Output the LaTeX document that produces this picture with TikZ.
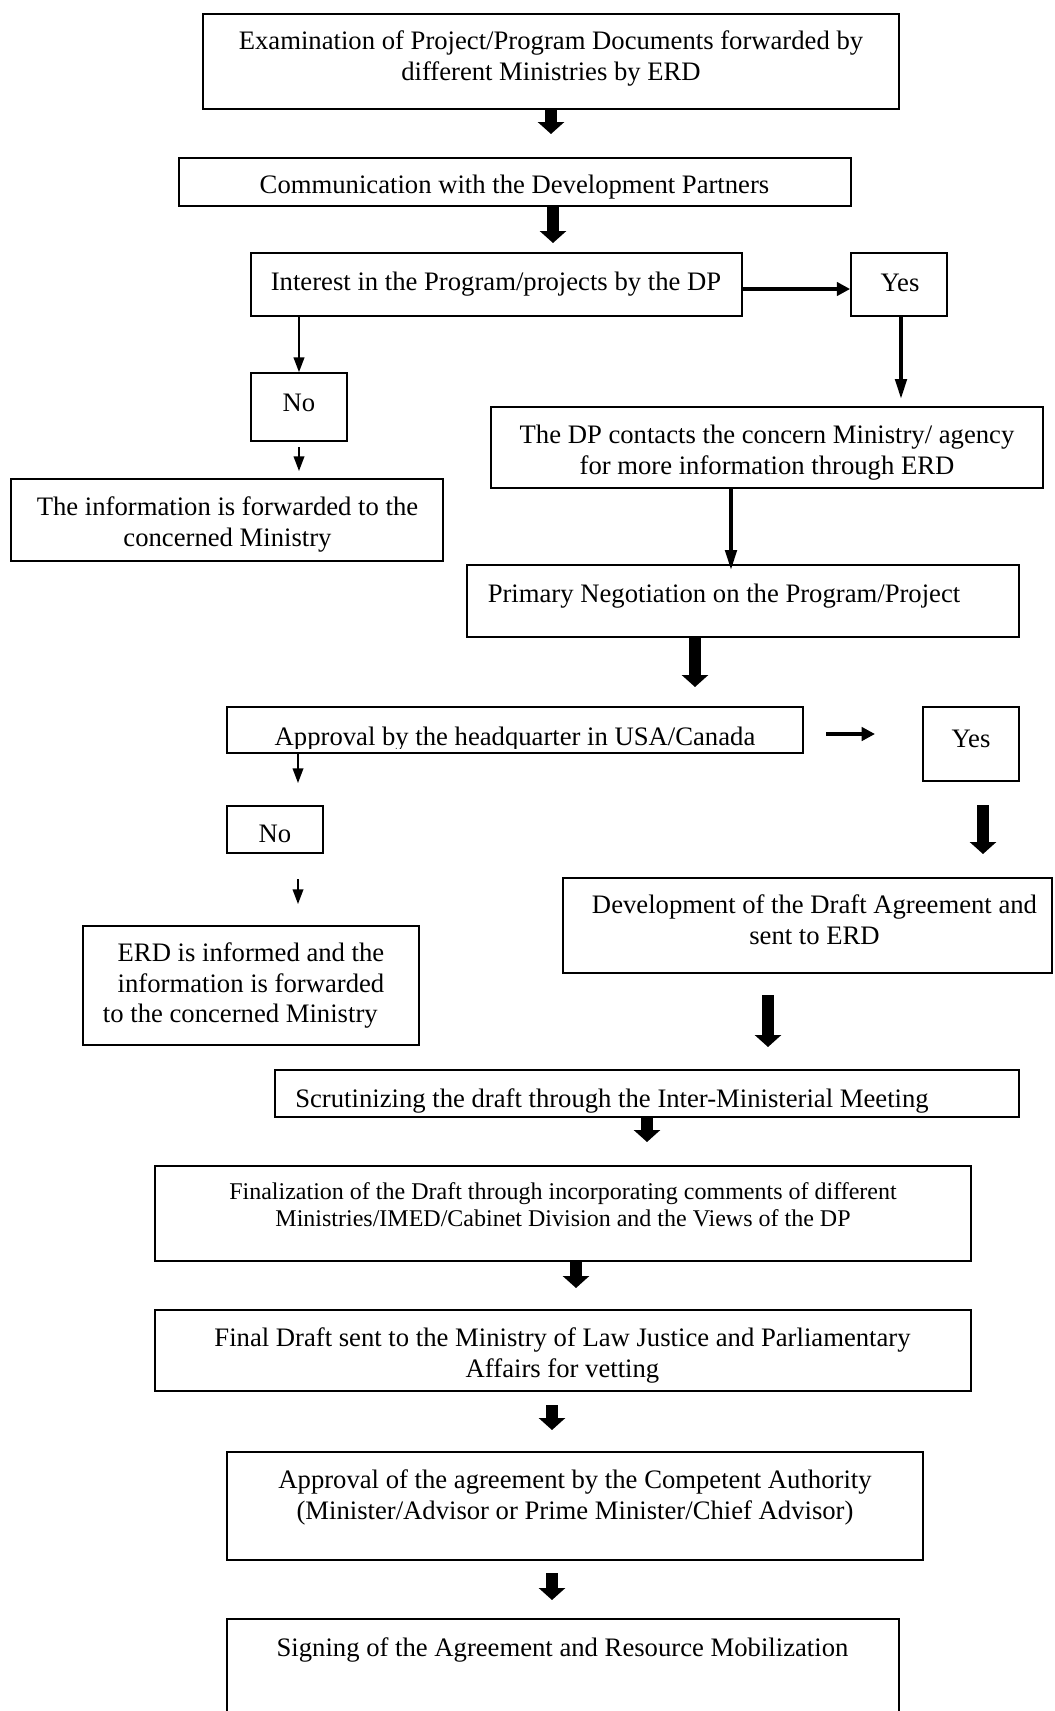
\documentclass[tikz,border=0pt]{standalone}
\usepackage{fontspec}
\setmainfont{Liberation Serif}
\usetikzlibrary{arrows.meta,fit}
\begin{document}
\begin{tikzpicture}[x=0.75pt,y=-0.75pt,
  box/.style={draw, line width=1.3pt, inner sep=0pt},
  txt/.style={align=center, inner sep=0pt, font=\fontsize{20}{23}\selectfont},
  smalltxt/.style={align=center, inner sep=0pt, font=\fontsize{18}{20.5}\selectfont},
  fat/.style={line width=9pt, -{Triangle[width=19.5pt,length=9pt]}},
  med/.style={line width=2.8pt, -{Triangle[width=10pt,length=10pt]}},
  medlong/.style={line width=2.8pt, -{Triangle[width=8.5pt,length=15pt]}},
  thin/.style={line width=1.2pt, -{Triangle[width=8pt,length=11pt]}}]
\useasboundingbox (0,0) rectangle (1054,1711);
\clip (0,0) rectangle (1054,1711);
\fill[white] (0,0) rectangle (1054,1711);

% boxes
\node[box, fit={(203,14) (899,109)}] (b1) {};
\node[box, fit={(179,158) (851,206)}] (b2) {};
\node[box, fit={(251,253) (742,316)}] (b3) {};
\node[box, fit={(851,253) (947,316)}] (y1) {};
\node[box, fit={(251,373) (347,441)}] (n1) {};
\node[box, fit={(11,479) (443,561)}] (b4) {};
\node[box, fit={(491,407) (1043,488)}] (b5) {};
\node[box, fit={(467,565) (1019,637)}] (b6) {};
\node[box, fit={(227,707) (803,753)}] (b7) {};
\node[box, fit={(923,707) (1019,781)}] (y2) {};
\node[box, fit={(227,806) (323,853)}] (n2) {};
\node[box, fit={(83,926) (419,1045)}] (b8) {};
\node[box, fit={(563,878) (1052,973)}] (b9) {};
\node[box, fit={(275,1070) (1019,1117)}] (b10) {};
\node[box, fit={(155,1166) (971,1261)}] (b11) {};
\node[box, fit={(155,1310) (971,1391)}] (b12) {};
\node[box, fit={(227,1452) (923,1560)}] (b13) {};
\node[box, fit={(227,1619) (899,1725)}] (b14) {};

% texts
\node[txt] (t1) at (551,58.5) {Examination of Project/Program Documents forwarded by\\different Ministries by ERD};
\node[txt] (t2) at (514.5,187) {Communication with the Development Partners};
\node[txt] (t3) at (496,284) {Interest in the Program/projects by the DP};
\node[txt] (ty1) at (900,283) {Yes};
\node[txt] (tn1) at (299,403) {No};
\node[txt] (t4) at (227.5,524.5) {The information is forwarded to the\\concerned Ministry};
\node[txt] (t5) at (767,452.5) {The DP contacts the concern Ministry/ agency\\for more information through ERD};
\node[txt] (t6) at (724,596) {Primary Negotiation on the Program/Project};
\begin{scope}
  \clip (227,707) rectangle (803,748);
  \node[txt] (t7) at (515,739.5) {Approval by the headquarter in USA/Canada};
\end{scope}
\node[txt] (ty2) at (971,739) {Yes};
\node[txt] (tn2) at (275,834) {No};
\node[txt] (t8) at (251,985.6) {ERD is informed and the\\information is forwarded\\to the concerned Ministry\hspace*{16pt}};
\node[txt] (t9) at (814.5,920) {Development of the Draft Agreement and\\sent to ERD};
\begin{scope}
  \clip (275,1070) rectangle (1019,1112);
  \node[txt] (t10) at (612,1100.5) {Scrutinizing the draft through the Inter-Ministerial Meeting};
\end{scope}
\node[smalltxt] (t11) at (563,1205) {Finalization of the Draft through incorporating comments of different\\Ministries/IMED/Cabinet Division and the Views of the DP};
\node[txt] (t12) at (562.5,1355.5) {Final Draft sent to the Ministry of Law Justice and Parliamentary\\Affairs for vetting};
\node[txt] (t13) at (575,1497.5) {Approval of the agreement by the Competent Authority\\(Minister/Advisor or Prime Minister/Chief Advisor)};
\node[txt] (t14) at (562.5,1649.5) {Signing of the Agreement and Resource Mobilization};

% connector end points
\coordinate (a1e) at (551,134);
\coordinate (a2e) at (553,243);
\coordinate (a3y) at (0,289);
\coordinate (a5e) at (901,399);
\coordinate (a6s) at (299,447);
\coordinate (a6e) at (299,471);
\coordinate (a7e) at (731,570);
\coordinate (a8e) at (695,687);
\coordinate (a9s) at (826,734);
\coordinate (a9e) at (875,734);
\coordinate (a10e) at (298,783);
\coordinate (a11s) at (298,879);
\coordinate (a11e) at (298,904);
\coordinate (a12s) at (983,805);
\coordinate (a12e) at (983,854);
\coordinate (a13s) at (768,995);
\coordinate (a13e) at (768,1047);
\coordinate (a14e) at (647,1142);
\coordinate (a15e) at (576,1288);
\coordinate (a16s) at (552,1405);
\coordinate (a16e) at (552,1430);
\coordinate (a17s) at (552,1573);
\coordinate (a17e) at (552,1600);

% connectors
\draw[fat] (b1.south) -- (a1e);
\draw[fat] (b2.south -| a2e) -- (a2e);
\draw[med] (b3.east |- a3y) -- (y1.west |- a3y);
\draw[thin] (n1.north |- b3.south) -- (n1.north);
\draw[medlong] (y1.south -| a5e) -- (a5e);
\draw[thin] (a6s) -- (a6e);
\draw[medlong] (b5.south -| a7e) -- (a7e);
\draw[fat] (b6.south -| a8e) -- (a8e);
\draw[med] (a9s) -- (a9e);
\draw[thin] (b7.south -| a10e) -- (a10e);
\draw[thin] (a11s) -- (a11e);
\draw[fat] (a12s) -- (a12e);
\draw[fat] (a13s) -- (a13e);
\draw[fat] (b10.south -| a14e) -- (a14e);
\draw[fat] (b11.south -| a15e) -- (a15e);
\draw[fat] (a16s) -- (a16e);
\draw[fat] (a17s) -- (a17e);
\end{tikzpicture}
\end{document}
